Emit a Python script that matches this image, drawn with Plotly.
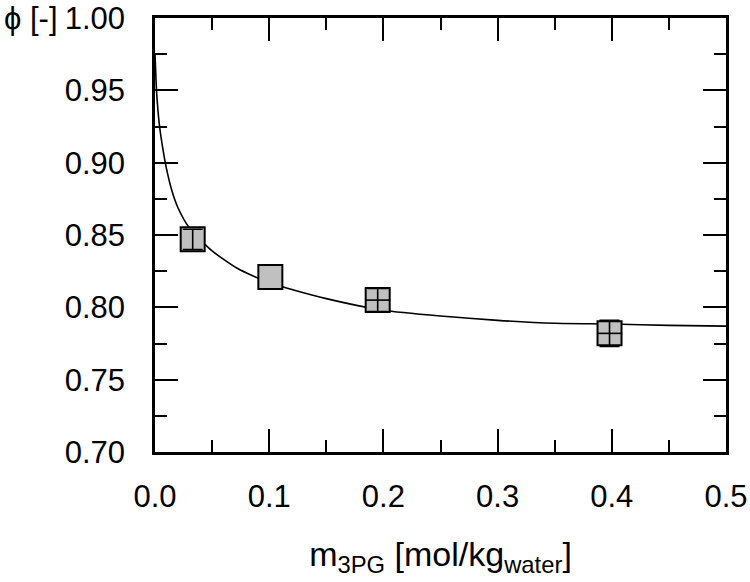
import plotly.graph_objects as go

m_exp = [0.033, 0.101, 0.195, 0.398]
phi_exp = [0.847, 0.821, 0.805, 0.782]

# error bars (only points that show them)
m_err_pts = [0.033, 0.195, 0.398]
phi_err_pts = [0.847, 0.805, 0.782]
phi_err = [0.007, 0.008, 0.009]
m_err = [0.0, 0.011, 0.011]

# Model curve
m_model = [0.0, 0.001, 0.002, 0.004, 0.007, 0.01, 0.015, 0.02, 0.03, 0.05,
           0.072, 0.1, 0.15, 0.2, 0.25, 0.3, 0.35, 0.4, 0.45, 0.5]
phi_model = [0.975, 0.955, 0.942, 0.925, 0.909, 0.896, 0.880, 0.869, 0.855, 0.839,
             0.827, 0.817, 0.806, 0.798, 0.794, 0.791, 0.789, 0.7885, 0.7875, 0.787]

x_ticks = [0.0, 0.1, 0.2, 0.3, 0.4, 0.5]
x_ticklabels = ["0.0", "0.1", "0.2", "0.3", "0.4", "0.5"]
y_ticks = [0.70, 0.75, 0.80, 0.85, 0.90, 0.95, 1.00]
y_ticklabels = ["0.70", "0.75", "0.80", "0.85", "0.90", "0.95", "1.00"]

FONT = "Liberation Sans, Arial, sans-serif"

fig = go.Figure()
fig.add_trace(go.Scatter(
    x=m_model, y=phi_model, mode="lines",
    line=dict(color="black", width=1.6, shape="spline", smoothing=0.6),
    showlegend=False, hoverinfo="skip"))
fig.add_trace(go.Scatter(
    x=m_exp, y=phi_exp, mode="markers",
    marker=dict(symbol="square", size=24, color="#c0c0c0",
                line=dict(color="black", width=2)),
    showlegend=False))
# error bars drawn on top of the markers
fig.add_trace(go.Scatter(
    x=m_err_pts, y=phi_err_pts, mode="markers",
    marker=dict(size=0.1, color="rgba(0,0,0,0)"),
    error_y=dict(type="data", array=phi_err, color="black", thickness=1.6, width=10),
    error_x=dict(type="data", array=m_err, color="black", thickness=1.6, width=0),
    showlegend=False, hoverinfo="skip"))

axis_common = dict(
    showline=True, linecolor="black", linewidth=2.5, mirror="ticks",
    ticks="inside", ticklen=23, tickwidth=2, tickcolor="black",
    showgrid=False, zeroline=False, automargin=False,
    tickfont=dict(family=FONT, size=31, color="black"),
)

fig.update_xaxes(
    range=[0, 0.5], tickvals=x_ticks, ticktext=x_ticklabels,
    minor=dict(ticks="inside", ticklen=12, tickwidth=2, tickcolor="black", dtick=0.05, showgrid=False),
    ticklabelstandoff=15,
    title=dict(text="m<sub>3PG</sub> [mol/kg<sub>water</sub>]",
               font=dict(family=FONT, size=34, color="black"), standoff=30),
    **axis_common)
fig.update_yaxes(
    range=[0.70, 1.00], tickvals=y_ticks, ticktext=y_ticklabels,
    minor=dict(ticks="inside", ticklen=12, tickwidth=2, tickcolor="black", dtick=0.025, showgrid=False),
    ticklabelstandoff=21,
    **axis_common)

fig.add_annotation(
    text="ϕ [-]", xref="paper", yref="paper", x=-0.268, y=1.0,
    xanchor="left", yanchor="middle", showarrow=False,
    font=dict(family=FONT, size=31, color="black"))

fig.update_layout(
    width=750, height=582,
    margin=dict(l=155, r=24, t=18, b=130),
    paper_bgcolor="white", plot_bgcolor="white",
)

fig.write_html("out.html", config={"displayModeBar": False})

# remove the default page margin so the figure sits at the window's corner
with open("out.html", "r", encoding="utf-8") as f:
    html = f.read()
html = html.replace("<body>", '<body style="margin:0;padding:0;overflow:hidden">', 1)
with open("out.html", "w", encoding="utf-8") as f:
    f.write(html)
